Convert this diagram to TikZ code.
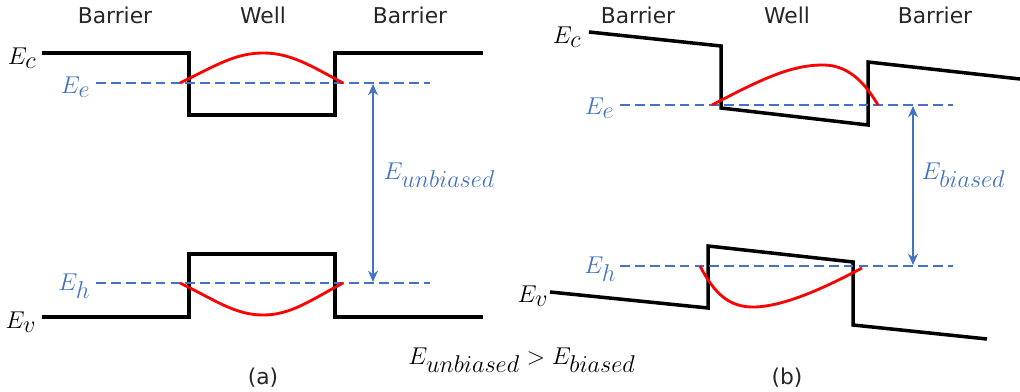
\documentclass[tikz,border=0pt]{standalone}
\usepackage{fontspec}
\newfontfamily\headfont{DejaVu Sans}
\usetikzlibrary{arrows.meta}
\definecolor{eblue}{HTML}{4472C4}
\definecolor{ered}{HTML}{FF0000}
\newcommand\En[1]{$E_{\textstyle #1}$}
\begin{document}
\begin{tikzpicture}[x=0.025cm,y=-0.025cm,
  band/.style={line width=2.5pt,line join=miter,black},
  wave/.style={line width=2pt,ered},
  level/.style={line width=1.7pt,eblue,dash pattern=on 7pt off 3.6pt},
  gap/.style={line width=1.7pt,eblue,{Stealth[length=8pt,width=7pt]}-{Stealth[length=8pt,width=7pt]}},
  head/.style={font=\headfont\fontsize{15.5}{18}\selectfont,text=black!85},
  mlbl/.style={font=\fontsize{17}{20}\selectfont,inner sep=1pt},
  blbl/.style={mlbl,text=eblue}]
\useasboundingbox (0,0) rectangle (1020,392);
% headings
\node[head] (ha1) at (115,15) {Barrier};
\node[head] (ha2) at (263,15) {Well};
\node[head] (ha3) at (410,15) {Barrier};
\node[head] (hb1) at (638,15) {Barrier};
\node[head] (hb2) at (787,15) {Well};
\node[head] (hb3) at (935,15) {Barrier};
% ---------- panel (a)
\draw[band] (42,53) -- (189,53) -- (189,115) -- (335,115) -- (335,53) -- (483,53);
\draw[band] (42,317) -- (189,317) -- (189,254) -- (335,254) -- (335,317) -- (483,317);
\draw[level] (96,83) -- (430,83);
\draw[level] (96,283) -- (430,283);
\draw[wave] (180,83) .. controls (215,66) and (235,53) .. (263,53) .. controls (291,53) and (311,66) .. (343,83);
\draw[wave] (180,283) .. controls (215,300) and (235,315) .. (263,315) .. controls (291,315) and (311,300) .. (343,283);
\coordinate (at) at (373,84);
\coordinate (ab) at (373,282);
\draw[gap] (at) -- (ab);
\node[mlbl,anchor=east] (eca) at (38,58) {\En{c}};
\node[blbl,anchor=east] (eea) at (92,87) {\En{e}};
\node[blbl,anchor=east] (eha) at (92,286) {\En{h}};
\node[mlbl,anchor=east] (eva) at (38,322) {\En{v}};
\node[blbl,anchor=west] (eua) at (382,175) {\En{unbiased}};
\node[head] (la) at (263,378) {(a)};
% ---------- panel (b)
\draw[band] (589,32) -- (721,46) -- (721,108) -- (868,125) -- (868,62) -- (1020,79);
\draw[band] (550,292) -- (708,308) -- (708,246) -- (853,262) -- (853,325) -- (987,339);
\draw[level] (620,105) -- (953,105);
\draw[level] (620,266) -- (953,266);
\draw[wave] (712,105) .. controls (760,80) and (790,65) .. (823,65) .. controls (850,65) and (866,85) .. (878,105);
\draw[wave] (700,266) .. controls (715,295) and (730,307) .. (753,307) .. controls (785,307) and (830,285) .. (862,268);
\coordinate (bt) at (913,106);
\coordinate (bb) at (913,265);
\draw[gap] (bt) -- (bb);
\node[mlbl,anchor=east] (ecb) at (583,37) {\En{c}};
\node[blbl,anchor=east] (eeb) at (616,108) {\En{e}};
\node[blbl,anchor=east] (ehb) at (618,269) {\En{h}};
\node[mlbl,anchor=east] (evb) at (550,296) {\En{v}};
\node[blbl,anchor=west] (ebb) at (920,175) {\En{biased}};
\node[head] (lb) at (787,378) {(b)};
% ---------- relation
\node[mlbl] (rel) at (522,360) {$E_{\textstyle unbiased} > E_{\textstyle biased}$};
\end{tikzpicture}
\end{document}
